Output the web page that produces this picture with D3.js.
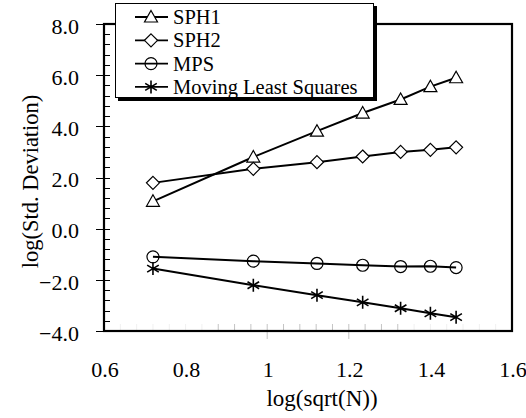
<!DOCTYPE html>
<html>
<head>
<meta charset="utf-8">
<script src="https://cdn.jsdelivr.net/npm/d3@7"></script>
<style>
  body { margin: 0; background: #fff; }
  svg { display: block; font-family: 'Liberation Serif', 'Times New Roman', serif; }
</style>
</head>
<body>
<div id="chart"></div>
<script>
const dimentions = { width: 526, height: 418 }
const margin = { top: 24, right: 14, bottom: 87, left: 104 }

const xValues = [0.72, 0.966, 1.122, 1.234, 1.327, 1.40, 1.463]
const sph1 = [1.07, 2.80, 3.81, 4.52, 5.05, 5.55, 5.90]
const sph2 = [1.79, 2.34, 2.60, 2.82, 3.00, 3.08, 3.18]
const mps = [-1.10, -1.27, -1.36, -1.43, -1.48, -1.47, -1.52]
const mls = [-1.56, -2.21, -2.60, -2.88, -3.11, -3.31, -3.46]

const seriesNames = ['SPH1', 'SPH2', 'MPS', 'Moving Least Squares']
const seriesMarkers = ['triangle', 'diamond', 'circle', 'star']
const seriesValues = [sph1, sph2, mps, mls]

const xTicks = [0.6, 0.8, 1.0, 1.2, 1.4, 1.6]
const yTicks = [-4, -2, 0, 2, 4, 6, 8]

const x = d3.scaleLinear().domain([0.6, 1.6]).range([margin.left, dimentions.width - margin.right])
const y = d3.scaleLinear().domain([-4, 8]).range([dimentions.height - margin.bottom, margin.top])

const svg = d3.select('#chart').append('svg')
  .attr('width', dimentions.width)
  .attr('height', dimentions.height)

const marker = (g, type) => {
  if (type === 'triangle') {
    g.append('path').attr('d', 'M0,-6.5L6.5,5L-6.5,5Z')
      .attr('fill', '#fff').attr('stroke', '#000').attr('stroke-width', 1.2)
  } else if (type === 'diamond') {
    g.append('path').attr('d', 'M0,-6.5L6.5,0L0,6.5L-6.5,0Z')
      .attr('fill', '#fff').attr('stroke', '#000').attr('stroke-width', 1.2)
  } else if (type === 'circle') {
    g.append('circle').attr('r', 6)
      .attr('fill', 'none').attr('stroke', '#000').attr('stroke-width', 1.2)
  } else {
    g.append('path').attr('d', 'M0,-6.5V6.5M-5.8,-3.5L5.8,3.5M-5.8,3.5L5.8,-3.5')
      .attr('stroke', '#000').attr('stroke-width', 1.6)
  }
}

// minor x ticks (faint, mostly visible in the middle)
const xMinor = d3.range(0.6, 1.6001, 0.04)
svg.append('g').selectAll('line')
  .data(xMinor)
  .join('line')
  .attr('x1', d => x(d)).attr('x2', d => x(d))
  .attr('y1', y(-4) - 7)
  .attr('y2', d => (Math.abs(d - 1) < 1e-6 || Math.abs(d - 1.2) < 1e-6) ? y(-4) + 8 : y(-4))
  .attr('stroke', d => (d > 0.86 && d < 1.34) ? '#c4c4c4' : '#f0f0f0')
  .attr('stroke-width', 1)

// y ticks
const yMinor = d3.range(-4, 8.001, 0.4)
svg.append('g').selectAll('line')
  .data(yMinor)
  .join('line')
  .attr('x1', margin.left)
  .attr('x2', margin.left + 6)
  .attr('y1', d => Math.round(y(d)) + 0.5).attr('y2', d => Math.round(y(d)) + 0.5)
  .attr('stroke', '#000')
svg.append('g').selectAll('line')
  .data(yTicks)
  .join('line')
  .attr('x1', margin.left - 8)
  .attr('x2', margin.left)
  .attr('y1', d => Math.round(y(d)) + 0.5).attr('y2', d => Math.round(y(d)) + 0.5)
  .attr('stroke', '#000')

// frame
svg.append('rect')
  .attr('x', x(0.6)).attr('y', y(8))
  .attr('width', x(1.6) - x(0.6)).attr('height', y(-4) - y(8))
  .attr('fill', 'none').attr('stroke', '#000').attr('stroke-width', 2.2)

// tick labels
svg.append('g').selectAll('text')
  .data(yTicks)
  .join('text')
  .attr('x', 79).attr('y', d => y(d) + 2)
  .attr('dy', '0.35em')
  .attr('text-anchor', 'end')
  .attr('font-size', 22)
  .text(d => d3.format('.1f')(d))

svg.append('g').selectAll('text')
  .data(xTicks)
  .join('text')
  .attr('x', d => x(d) + 1).attr('y', 377)
  .attr('text-anchor', 'middle')
  .attr('font-size', 22)
  .text(d => d === 1 ? '1' : d3.format('.1f')(d))

svg.append('text')
  .attr('x', 322).attr('y', 406)
  .attr('text-anchor', 'middle')
  .attr('font-size', 23)
  .text('log(sqrt(N))')

svg.append('text')
  .attr('transform', `translate(38,${(y(8) + y(-4)) / 2 + 4}) rotate(-90)`)
  .attr('text-anchor', 'middle')
  .attr('font-size', 22.5)
  .text('log(Std. Deviation)')

// series
const line = d3.line().x(d => x(d[0])).y(d => y(d[1]))
seriesValues.forEach((vals, i) => {
  const pts = xValues.map((xv, j) => [xv, vals[j]])
  svg.append('path')
    .attr('d', line(pts))
    .attr('fill', 'none').attr('stroke', '#000').attr('stroke-width', 2)
  svg.append('g').selectAll('g')
    .data(pts)
    .join('g')
    .attr('transform', d => `translate(${x(d[0])},${y(d[1])})`)
    .each(function () { marker(d3.select(this), seriesMarkers[i]) })
})

// legend
const legend = svg.append('g').attr('transform', 'translate(115,3)')
legend.append('rect').attr('x', 3).attr('y', 3).attr('width', 259).attr('height', 95).attr('fill', '#000')
legend.append('rect').attr('x', 0.5).attr('y', 0.5).attr('width', 258).attr('height', 94)
  .attr('fill', '#fff').attr('stroke', '#000').attr('stroke-width', 1)

seriesNames.forEach((name, i) => {
  const row = legend.append('g').attr('transform', `translate(0,${14 + i * 23.3})`)
  row.append('line').attr('x1', 20).attr('x2', 53).attr('stroke', '#000').attr('stroke-width', 1.8)
  marker(row.append('g').attr('transform', 'translate(36,0)'), seriesMarkers[i])
  row.append('text').attr('x', 58).attr('dy', '0.35em')
    .attr('font-size', 20.5).text(name)
})
</script>
</body>
</html>
